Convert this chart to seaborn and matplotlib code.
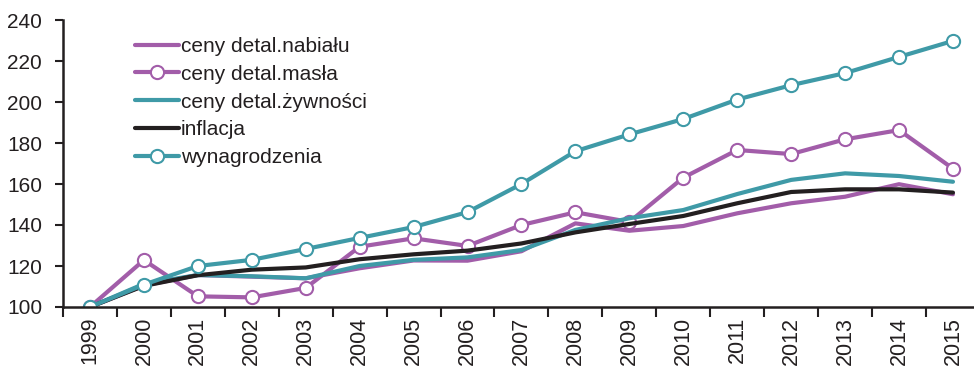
import matplotlib
matplotlib.use("Agg")
import matplotlib.pyplot as plt
import seaborn as sns
import pandas as pd
from matplotlib.ticker import FixedLocator

years = [str(y) for y in range(1999, 2016)]

nabialu = [100, 110.5, 115.6, 114.8, 114.0, 118.9, 122.7, 122.6, 127.2, 140.8, 137.2, 139.5, 145.7, 150.6, 153.8, 159.9, 155.0]
masla = [100, 122.9, 105.2, 104.7, 109.3, 129.4, 133.5, 129.8, 140.0, 146.2, 141.5, 163.1, 176.6, 174.6, 181.8, 186.3, 167.5]
zywnosci = [100, 111.3, 115.6, 115.0, 114.0, 120.0, 123.0, 124.2, 127.8, 137.6, 143.3, 147.3, 155.1, 162.0, 165.2, 163.9, 161.1]
inflacja = [100, 110.3, 115.5, 118.2, 119.3, 123.3, 125.7, 127.5, 131.0, 136.4, 140.5, 144.4, 150.6, 156.1, 157.4, 157.4, 155.8]
wynagrodzenia = [100, 110.9, 120.0, 123.0, 128.3, 133.7, 139.0, 146.3, 160.0, 176.0, 184.2, 191.7, 201.2, 208.2, 214.1, 222.0, 229.8]

series_names = ["ceny detal.nabiału", "ceny detal.masła", "ceny detal.żywności", "inflacja", "wynagrodzenia"]
series_values = [nabialu, masla, zywnosci, inflacja, wynagrodzenia]

PURPLE = "#A25DA9"
TEAL = "#3F9AA7"
BLACK = "#231F20"
colors = [PURPLE, PURPLE, TEAL, BLACK, TEAL]
markers = [False, True, False, False, True]

sns.set_theme(style="white")
plt.rcParams["font.family"] = ["Liberation Sans", "DejaVu Sans"]

fig = plt.figure(figsize=(9.74, 3.66), dpi=100)
ax = fig.add_axes([63 / 974, 1 - 307 / 366, 1 - 63 / 974, (307 - 20) / 366])

for name, vals, col, mk in zip(series_names, series_values, colors, markers):
    df = pd.DataFrame({"x": list(range(len(years))), "y": vals})
    if mk:
        sns.lineplot(data=df, x="x", y="y", ax=ax, color=col, lw=3.0, label=name,
                     marker="o", markersize=9.5, markerfacecolor="white",
                     markeredgecolor=col, markeredgewidth=1.5)
    else:
        sns.lineplot(data=df, x="x", y="y", ax=ax, color=col, lw=3.0, label=name)

ax.set_xlim(-0.5, 16.39)
ax.set_ylim(100, 240)
ax.set_yticks(list(range(100, 241, 20)))
ax.set_xticks(list(range(len(years))))
ax.set_xticklabels(years, rotation=90)
ax.xaxis.set_minor_locator(FixedLocator([i - 0.5 for i in range(len(years) + 1)]))
ax.tick_params(axis="x", which="major", length=0, labelsize=15.5, pad=7, colors=BLACK)
ax.tick_params(axis="x", which="minor", length=7, width=1.5, direction="out", color=BLACK, bottom=True)
ax.tick_params(axis="y", which="major", length=6, width=1.5, direction="out", labelsize=15, pad=9, colors=BLACK, left=True)
ax.set_xlabel("")
ax.set_ylabel("")
for s in ["top", "right"]:
    ax.spines[s].set_visible(False)
for s in ["left", "bottom"]:
    ax.spines[s].set_color(BLACK)
    ax.spines[s].set_linewidth(1.8)

leg = ax.legend(loc="upper left", bbox_to_anchor=(135 / 974, 1 - 37 / 366),
                bbox_transform=fig.transFigure, frameon=False, fontsize=15,
                handlelength=2.1, handletextpad=0.1, labelspacing=0.42, borderpad=0,
                borderaxespad=0)
for t in leg.get_texts():
    t.set_color(BLACK)

fig.savefig("out.png", dpi=100)
